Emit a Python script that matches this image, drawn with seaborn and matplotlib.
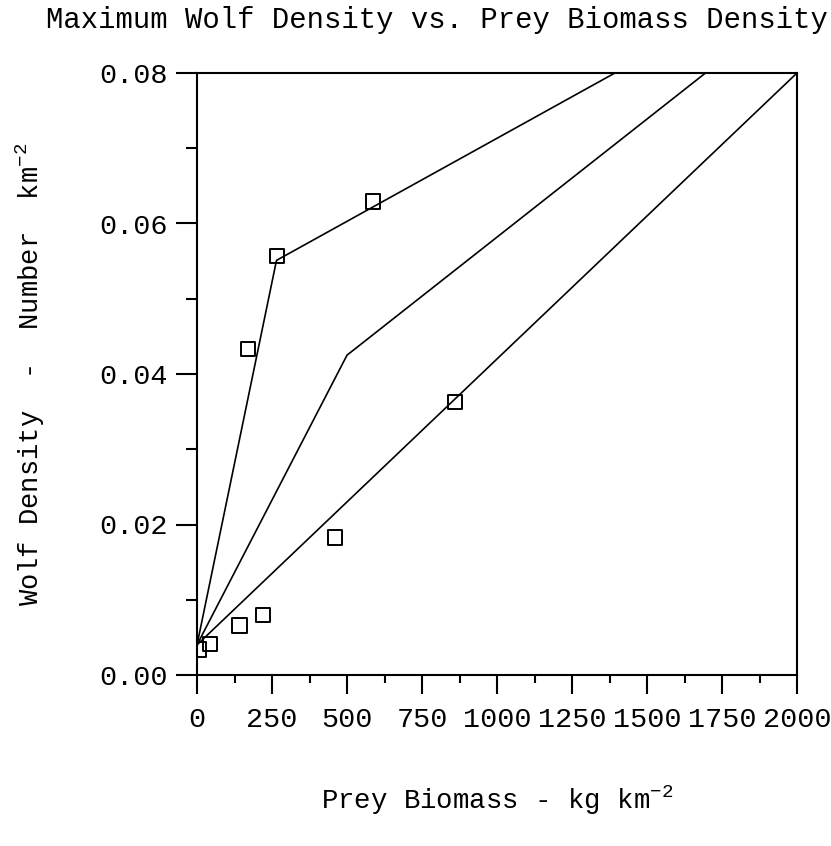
import matplotlib
matplotlib.use("Agg")
import matplotlib.pyplot as plt
from matplotlib.ticker import MultipleLocator, FormatStrFormatter
import seaborn as sns
import pandas as pd

# Observed maximum wolf densities against prey biomass
obs_biomass = [5, 43, 142, 220, 460, 170, 267, 587, 860]
obs_wolves = [0.0034, 0.0041, 0.0066, 0.0080, 0.0183, 0.0433, 0.0557, 0.0629, 0.0363]

# Model curves (piecewise linear)
upper_x = [0, 265, 1393]
upper_y = [0.004, 0.0551, 0.08]
middle_x = [0, 500, 1695]
middle_y = [0.004, 0.0425, 0.08]
lower_x = [0, 2000]
lower_y = [0.004, 0.08]

curves = pd.DataFrame({
    "biomass": upper_x + middle_x + lower_x,
    "wolves": upper_y + middle_y + lower_y,
    "curve": ["upper"] * len(upper_x) + ["middle"] * len(middle_x) + ["lower"] * len(lower_x),
})
points = pd.DataFrame({"biomass": obs_biomass, "wolves": obs_wolves})

sns.set_theme(style="white")
plt.rcParams["font.family"] = ["Liberation Mono", "DejaVu Sans Mono"]
plt.rcParams["mathtext.fontset"] = "custom"
plt.rcParams["mathtext.rm"] = "Liberation Mono"
plt.rcParams["mathtext.default"] = "regular"

fig = plt.figure(figsize=(8.31, 8.46), dpi=100)
ax = fig.add_axes([197 / 831, 1 - 675 / 846, 600 / 831, 602 / 846])

sns.lineplot(data=curves, x="biomass", y="wolves", units="curve", estimator=None,
             sort=False, color="black", linewidth=1.2, ax=ax, legend=False)
sns.scatterplot(data=points, x="biomass", y="wolves", marker="s", s=110,
                facecolor="none", edgecolor="black", linewidth=1.4, ax=ax, zorder=3)

ax.set_xlim(0, 2000)
ax.set_ylim(0, 0.08)
ax.xaxis.set_major_locator(MultipleLocator(250))
ax.xaxis.set_minor_locator(MultipleLocator(125))
ax.yaxis.set_major_locator(MultipleLocator(0.02))
ax.yaxis.set_minor_locator(MultipleLocator(0.01))
ax.yaxis.set_major_formatter(FormatStrFormatter("%.2f"))

for s in ax.spines.values():
    s.set_color("black")
    s.set_linewidth(1.5)

ax.tick_params(axis="both", which="both", direction="out", color="black", width=1.5,
               labelsize=20.5, labelcolor="black", bottom=True, left=True, top=False, right=False)
ax.tick_params(axis="x", which="major", length=14, pad=9)
ax.tick_params(axis="x", which="minor", length=6)
ax.tick_params(axis="y", which="major", length=15, pad=6)
ax.tick_params(axis="y", which="minor", length=8)

ax.set_xlabel("Prey Biomass - kg km$^{-2}$", fontsize=19.7, labelpad=37, color="black")
ax.set_ylabel("Wolf Density  -  Number  km$^{-2}$", fontsize=19.5, labelpad=38, color="black")

fig.text(437 / 831, 1 - 20 / 846, "Maximum Wolf Density vs. Prey Biomass Density",
         ha="center", va="center", fontsize=20.8, color="black")

fig.savefig("out.png", dpi=100, facecolor="white")
